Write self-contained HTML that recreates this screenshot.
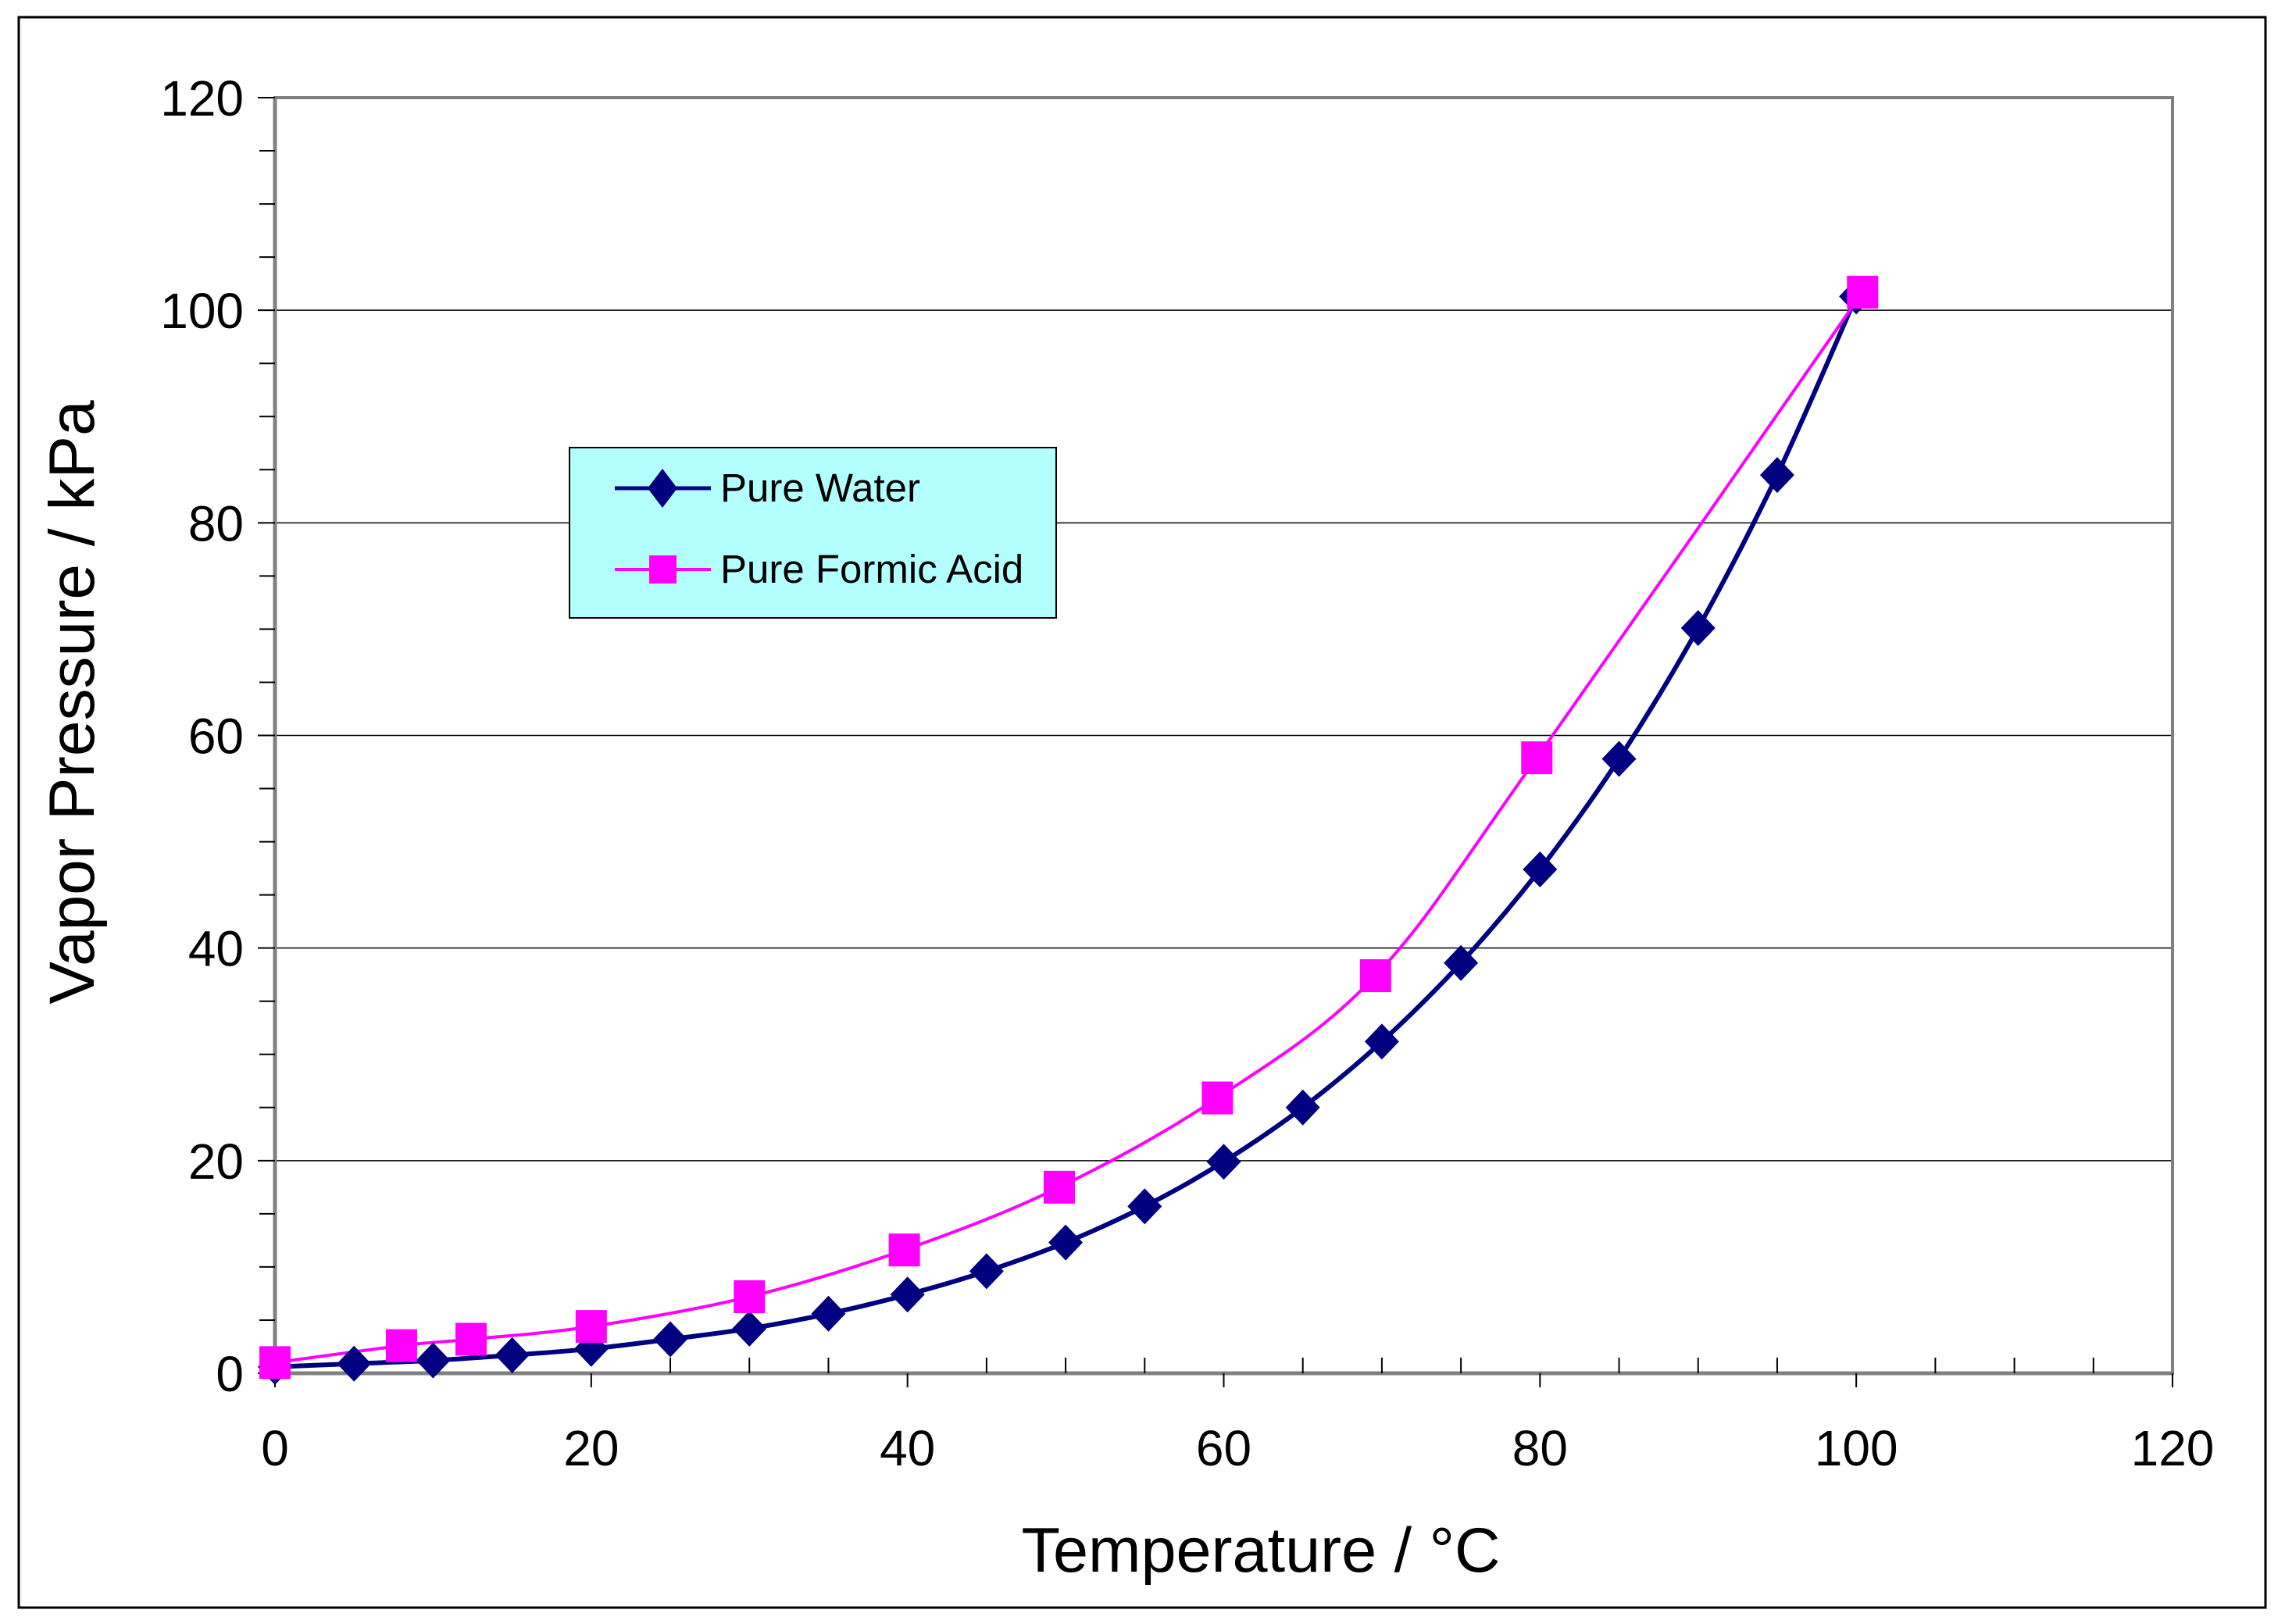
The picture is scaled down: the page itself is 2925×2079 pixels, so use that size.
<!DOCTYPE html>
<html><head><meta charset="utf-8"><style>
html,body{margin:0;padding:0;background:#fff;}
svg{display:block;font-family:"Liberation Sans",Arial,sans-serif;}
</style></head><body>
<svg id="chart" width="2925" height="2079" viewBox="0 0 2925 2079" xmlns="http://www.w3.org/2000/svg">
<rect x="24" y="22" width="2876" height="2036" fill="#fff" stroke="#000" stroke-width="3"/>
<g id="grid"></g>
<rect x="352" y="125" width="2429" height="1633" fill="none" stroke="#808080" stroke-width="4"/>
<g id="axes"></g>
<g id="series"></g>
<text x="1614" y="2012" font-size="81" text-anchor="middle">Temperature / °C</text>
<text transform="translate(120,899) rotate(-90)" font-size="82" text-anchor="middle">Vapor Pressure / kPa</text>
<g>
<rect x="729" y="573" width="623" height="218" fill="#B3FFFF" stroke="#000" stroke-width="2"/>
<g>
<line x1="787" y1="625" x2="910" y2="625" stroke="#000080" stroke-width="5"/>
<polygon points="848,600 867,625 848,650 829,625" fill="#000080"/>
<text x="922" y="642" font-size="51">Pure Water</text>
</g>
<g>
<line x1="787" y1="729" x2="910" y2="729" stroke="#FF00FF" stroke-width="4"/>
<rect x="831" y="711" width="35" height="36" fill="#FF00FF"/>
<text x="922" y="746" font-size="51">Pure Formic Acid</text>
</g>
</g>
</svg>
<script>
const xTicks=[0,20,40,60,80,100,120];
const yTicks=[0,20,40,60,80,100,120];
const waterT=[0,5,10,15,20,25,30,35,40,45,50,55,60,65,70,75,80,85,90,95,100];
const waterP=[0.6,0.9,1.2,1.7,2.3,3.2,4.2,5.6,7.4,9.6,12.3,15.7,19.9,25,31.2,38.6,47.4,57.8,70.1,84.5,101.3];
const acidT=[0,8,12.4,20,30,39.8,49.6,59.6,69.6,79.8,100.4];
const acidP=[1,2.6,3.2,4.4,7.2,11.6,17.5,25.9,37.4,57.9,101.7];
const NS="http://www.w3.org/2000/svg";
const X0=352,X1=2781,Y0=1758,Y1=125;
function sx(v){return X0+(v-0)/(120-0)*(X1-X0);}
function sy(v){return Y0-(v-0)/(120-0)*(Y0-Y1);}
function mk(tag,attrs,parent){const e=document.createElementNS(NS,tag);for(const k in attrs)e.setAttribute(k,attrs[k]);parent.appendChild(e);return e;}
const grid=document.getElementById('grid'),axes=document.getElementById('axes'),series=document.getElementById('series');
yTicks.forEach(v=>{if(v>0&&v<120){const l=mk('line',{x1:X0,x2:X1,y1:sy(v),y2:sy(v),stroke:'#000','stroke-width':1.5},grid);

}});
const xa=mk('line',{x1:X0,x2:X1,y1:Y0,y2:Y0,stroke:'#808080','stroke-width':5},axes);


const ya=mk('line',{x1:X0,x2:X0,y1:Y0,y2:Y1,stroke:'#808080','stroke-width':5},axes);


for(let v=0;v<=120;v+=5){
 const major=v%20===0;
 const t=mk('line',{x1:major?X0-22:X0-20,x2:X0,y1:sy(v),y2:sy(v),stroke:'#000','stroke-width':2},axes);
 
 
 const u=mk('line',{x1:sx(v),x2:sx(v),y1:major?Y0+18:Y0-20,y2:Y0,stroke:'#000','stroke-width':2},axes);
 
 
}
yTicks.forEach(v=>{const t=mk('text',{x:X0-40,y:sy(v)+23,'font-size':64,'text-anchor':'end'},axes);t.textContent=v;

});
xTicks.forEach(v=>{const t=mk('text',{x:sx(v),y:Y0+118,'font-size':64,'text-anchor':'middle'},axes);t.textContent=v;

});
function smooth(xs,ys){const p=xs.map((x,i)=>[sx(x),sy(ys[i])]);let d='M'+p[0][0]+','+p[0][1];
 for(let i=0;i<p.length-1;i++){const a=p[Math.max(0,i-1)],b=p[i],c=p[i+1],e=p[Math.min(p.length-1,i+2)];
 const k=1/6;d+=' C'+(b[0]+(c[0]-a[0])*k)+','+(b[1]+(c[1]-a[1])*k)+' '+(c[0]-(e[0]-b[0])*k)+','+(c[1]-(e[1]-b[1])*k)+' '+c[0]+','+c[1];}
 return d;}
const wl=mk('path',{d:smooth(waterT,waterP),fill:'none',stroke:'#000080','stroke-width':6},series);


const al=mk('path',{d:smooth(acidT,acidP),fill:'none',stroke:'#FF00FF','stroke-width':4},series);


waterT.forEach((t,i)=>{const x=sx(t),y=sy(waterP[i]);
 const m=mk('polygon',{points:`${x},${y-23} ${x+22},${y} ${x},${y+23} ${x-22},${y}`,fill:'#000080'},series);
 
 });
acidT.forEach((t,i)=>{const x=sx(t),y=sy(acidP[i]);
 const m=mk('rect',{x:x-20,y:y-21,width:40,height:42,fill:'#FF00FF'},series);
 
 });
</script>
</body></html>
